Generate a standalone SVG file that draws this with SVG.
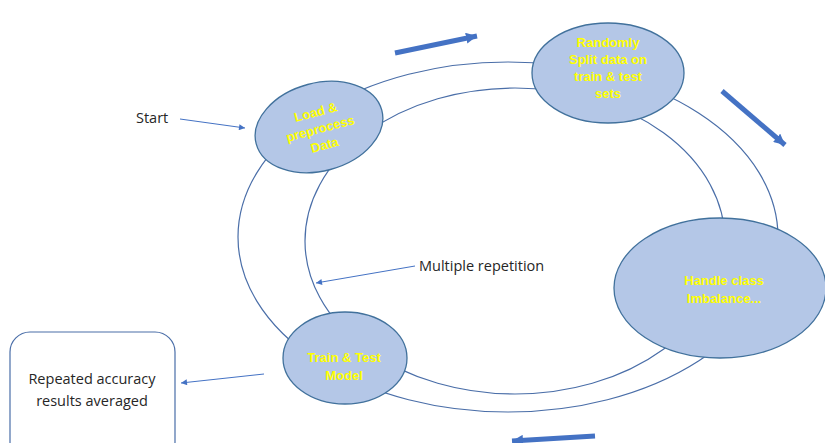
<svg xmlns="http://www.w3.org/2000/svg" width="825" height="443" viewBox="0 0 825 443">
<style>
.ring{fill:none;stroke:#4a6ea8;stroke-width:1.2}
.node{fill:#b4c7e7;stroke:#41719c;stroke-width:1.3}
.nt{font-family:"Liberation Sans",Arial,sans-serif;font-weight:bold;font-size:13px;fill:#ffff00;text-anchor:middle}
.lbl{font-family:"Open Sans","Liberation Sans",sans-serif;font-size:14.5px;fill:#262626}
.thin{fill:none;stroke:#4472c4;stroke-width:1}
.big{fill:none;stroke:#4472c4;stroke-width:5}
</style>
<defs>
<marker id="blk" viewBox="0 0 10 10" refX="10" refY="5" markerWidth="11" markerHeight="11" markerUnits="userSpaceOnUse" orient="auto"><path d="M0,0 L10,5 L0,10 z" fill="#4472c4"/></marker>
<marker id="sm" viewBox="0 0 10 10" refX="10" refY="5" markerWidth="7" markerHeight="6" markerUnits="userSpaceOnUse" orient="auto"><path d="M0,0 L10,5 L0,10 z" fill="#4472c4"/></marker>
</defs>
<g id="connectors">
<ellipse class="ring" cx="508" cy="237" rx="270" ry="175"/>
<ellipse class="ring" cx="515" cy="241" rx="210" ry="153"/>
<line class="big" x1="395" y1="53" x2="477" y2="36" marker-end="url(#blk)"/>
<line class="big" x1="722" y1="91" x2="785" y2="145" marker-end="url(#blk)"/>
<line class="big" x1="595" y1="436" x2="512" y2="441" marker-end="url(#blk)"/>
<line class="thin" x1="180" y1="119" x2="245" y2="128" marker-end="url(#sm)"/>
<line class="thin" x1="415" y1="266" x2="316" y2="283" marker-end="url(#sm)"/>
<line class="thin" x1="264" y1="374" x2="181" y2="383" marker-end="url(#sm)"/>
</g>
<g id="load">
<ellipse class="node" cx="319" cy="127" rx="65" ry="44" transform="rotate(-15 319 127)"/>
<g transform="rotate(-15 320 128)">
<text class="nt" x="320" y="116">Load &amp;</text>
<text class="nt" x="320" y="133">preprocess</text>
<text class="nt" x="320" y="150">Data</text>
</g>
</g>
<g id="split">
<ellipse class="node" cx="608" cy="73" rx="76" ry="50"/>
<text class="nt" x="608" y="47">Randomly</text>
<text class="nt" x="608" y="64">Split data on</text>
<text class="nt" x="608" y="81">train &amp; test</text>
<text class="nt" x="608" y="98">sets</text>
</g>
<g id="imbalance">
<ellipse class="node" cx="720" cy="288" rx="106" ry="70"/>
<text class="nt" x="724" y="285">Handle class</text>
<text class="nt" x="724" y="303">Imbalance...</text>
</g>
<g id="train">
<ellipse class="node" cx="345" cy="358" rx="62" ry="46"/>
<text class="nt" x="344" y="362">Train &amp; Test</text>
<text class="nt" x="344" y="380">Model</text>
</g>
<g id="results">
<rect x="10" y="332" width="165" height="130" rx="20" ry="20" fill="#ffffff" stroke="#4a6ea8" stroke-width="1.2"/>
<text class="lbl" x="92" y="384" text-anchor="middle">Repeated accuracy</text>
<text class="lbl" x="92" y="406" text-anchor="middle">results averaged</text>
</g>
<g id="labels">
<text class="lbl" x="136" y="123">Start</text>
<text class="lbl" x="419" y="271">Multiple repetition</text>
</g>
</svg>
